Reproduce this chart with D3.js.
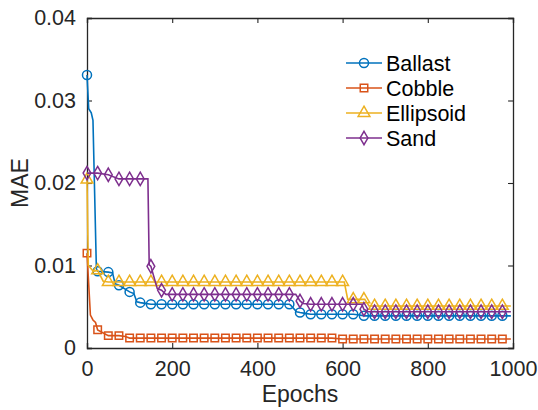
<!DOCTYPE html>
<html>
<head>
    <script src="https://d3js.org/d3.v7.min.js"></script>
    <style>
        body { margin: 0; background: white; font-family: "Liberation Sans", Arial, Helvetica, sans-serif; }
        svg { display: block; }
    </style>
</head>
<body>
    <svg width="538" height="410"></svg>
    <script>
        // marker epochs: every 25 epochs
        let markerEpochs = d3.range(0, 1000, 25);

        // values at marker epochs (40 each)
        let ballast = [0.0331, 0.0093, 0.0092, 0.0076, 0.0068, 0.0055,
            0.0053, 0.0053, 0.0053, 0.0053, 0.0053, 0.0053, 0.0053, 0.0053, 0.0053, 0.0053, 0.0053, 0.0053, 0.0053, 0.0053,
            0.0043,
            0.0041, 0.0041, 0.0041, 0.0041, 0.0041,
            0.0039, 0.0039, 0.0039, 0.0039, 0.0039, 0.0039, 0.0039, 0.0039, 0.0039, 0.0039, 0.0039, 0.0039, 0.0039, 0.0039];
        let cobble = [0.0115, 0.0022, 0.0015, 0.0015,
            0.0012, 0.0012, 0.0012, 0.0012, 0.0012, 0.0012, 0.0012, 0.0012, 0.0012, 0.0012,
            0.0012, 0.0012, 0.0012, 0.0012, 0.0012, 0.0012, 0.0012, 0.0012, 0.0012, 0.0012,
            0.0011, 0.0011, 0.0011, 0.0011, 0.0011, 0.0011, 0.0011, 0.0011,
            0.0011, 0.0011, 0.0011, 0.0011, 0.0011, 0.0011, 0.0011, 0.0011];
        let ellipsoid = [0.0204, 0.0094,
            0.0080, 0.0080, 0.0080, 0.0080, 0.0080, 0.0080, 0.0080, 0.0080, 0.0080, 0.0080, 0.0080, 0.0080,
            0.0080, 0.0080, 0.0080, 0.0080, 0.0080, 0.0080, 0.0080, 0.0080, 0.0080, 0.0080, 0.0080,
            0.0059, 0.0059,
            0.0051, 0.0051, 0.0051, 0.0051, 0.0051, 0.0051, 0.0051, 0.0051, 0.0051, 0.0051, 0.0051, 0.0051, 0.0051];
        let sand = [0.0212, 0.0212, 0.0210, 0.0205, 0.0205, 0.0205, 0.0099, 0.0070,
            0.0065, 0.0065, 0.0065, 0.0065, 0.0065, 0.0065, 0.0065, 0.0065, 0.0065, 0.0065, 0.0065, 0.0065,
            0.0057,
            0.0053, 0.0053, 0.0053, 0.0053, 0.0053,
            0.0047,
            0.0044, 0.0044, 0.0044, 0.0044, 0.0044, 0.0044, 0.0044, 0.0044, 0.0044, 0.0044, 0.0044, 0.0044, 0.0044];

        // extra line points between markers [epoch, value]
        let ballastExtra = [[4, 0.0290], [10, 0.0285], [14, 0.0276], [22, 0.0096], [60, 0.0091], [66, 0.0078],
            [110, 0.0066], [117, 0.0056], [478, 0.0052], [492, 0.0044], [512, 0.0042], [640, 0.0040], [995, 0.0039]];
        let cobbleExtra = [[8, 0.0040], [14, 0.0034], [20, 0.0031], [90, 0.0014], [995, 0.0011]];
        let ellipsoidExtra = [[3, 0.0100], [15, 0.0093], [38, 0.0081], [604, 0.0080], [612, 0.0059],
            [652, 0.0059], [662, 0.0051], [995, 0.0051]];
        let sandExtra = [[143, 0.0205], [146, 0.0101], [165, 0.0072], [185, 0.0065], [490, 0.0065], [507, 0.0054],
            [645, 0.0053], [660, 0.0044], [995, 0.0044]];

        let names = ["Ballast", "Cobble", "Ellipsoid", "Sand"];
        let colors = ["#0072BD", "#D95319", "#EDB120", "#7E2F8E"];
        let symbols = ["circle", "square", "triangle", "diamond"];
        let xTicks = [0, 200, 400, 600, 800, 1000];
        let yTicks = [0, 0.01, 0.02, 0.03, 0.04];

        let series = [
            {values: ballast, extra: ballastExtra},
            {values: cobble, extra: cobbleExtra},
            {values: ellipsoid, extra: ellipsoidExtra},
            {values: sand, extra: sandExtra}
        ].map((s, i) => {
            let markers = markerEpochs.map((e, j) => [e, s.values[j]]);
            let line = markers.concat(s.extra).sort((a, b) => a[0] - b[0]);
            return {name: names[i], color: colors[i], symbol: symbols[i], markers: markers, line: line};
        });

        let svg = d3.select("svg");
        let pLeft = 87, pRight = 513, pTop = 18, pBottom = 348;
        let x = d3.scaleLinear().domain([0, 1000]).range([pLeft, pRight]);
        let y = d3.scaleLinear().domain([0, 0.04]).range([pBottom, pTop]);
        let axisColor = "#262626";
        let tickFont = "21.5px";

        // axes
        let gx = svg.append("g").attr("transform", `translate(0,${pBottom})`)
            .call(d3.axisBottom(x).tickValues(xTicks).tickSize(-5).tickPadding(13).tickFormat(d3.format("d")));
        let gxTop = svg.append("g").attr("transform", `translate(0,${pTop})`)
            .call(d3.axisTop(x).tickValues(xTicks).tickSize(-5).tickFormat(""));
        let gy = svg.append("g").attr("transform", `translate(${pLeft},0)`)
            .call(d3.axisLeft(y).tickValues(yTicks).tickSize(-5).tickPadding(11).tickFormat(d => d === 0 ? "0" : d3.format(".2f")(d)));
        let gyRight = svg.append("g").attr("transform", `translate(${pRight},0)`)
            .call(d3.axisRight(y).tickValues(yTicks).tickSize(-5).tickFormat(""));

        [gx, gxTop, gy, gyRight].forEach(g => {
            g.select(".domain").attr("stroke", axisColor).attr("stroke-width", 1.3);
            g.selectAll(".tick line").attr("stroke", axisColor).attr("stroke-width", 1.1);
            g.selectAll(".tick text").attr("fill", axisColor)
                .style("font-size", tickFont).style("font-family", "'Liberation Sans', Arial, sans-serif");
        });

        // axis labels
        svg.append("text")
            .attr("x", (pLeft + pRight) / 2).attr("y", 402)
            .attr("text-anchor", "middle").attr("fill", axisColor)
            .style("font-size", "23px").text("Epochs");
        svg.append("text")
            .attr("transform", `translate(28,${(pTop + pBottom) / 2}) rotate(-90)`)
            .attr("text-anchor", "middle").attr("fill", axisColor)
            .style("font-size", "23px").text("MAE");

        let lineGen = d3.line().x(d => x(d[0])).y(d => y(d[1]));

        function markerPath(sym) {
            let s = {circle: d3.symbolCircle, square: d3.symbolSquare, triangle: d3.symbolTriangle, diamond: d3.symbolDiamond}[sym];
            let size = {circle: 64, square: 56, triangle: 60, diamond: 52}[sym];
            return d3.symbol().type(s).size(size)();
        }

        let plot = svg.append("g");

        series.forEach(s => {
            let g = plot.append("g");
            g.append("path")
                .datum(s.line)
                .attr("d", lineGen)
                .attr("fill", "none")
                .attr("stroke", s.color)
                .attr("stroke-width", 1.6);
            g.selectAll("path.mk")
                .data(s.markers)
                .enter().append("path")
                .attr("class", "mk")
                .attr("transform", d => `translate(${x(d[0])},${y(d[1])})`)
                .attr("d", markerPath(s.symbol))
                .attr("fill", "none")
                .attr("stroke", s.color)
                .attr("stroke-width", 1.5);
        });

        // legend
        let legend = svg.append("g");
        series.forEach((s, i) => {
            let cy = 63 + i * 25;
            legend.append("line")
                .attr("x1", 346).attr("x2", 382).attr("y1", cy).attr("y2", cy)
                .attr("stroke", s.color).attr("stroke-width", 1.6);
            legend.append("path")
                .attr("transform", `translate(364,${cy})`)
                .attr("d", markerPath(s.symbol))
                .attr("fill", "none").attr("stroke", s.color).attr("stroke-width", 1.5);
            legend.append("text")
                .attr("x", 386).attr("y", cy + 7.8)
                .attr("fill", "#000")
                .style("font-size", "21.5px")
                .text(s.name);
        });
    </script>
</body>
</html>
